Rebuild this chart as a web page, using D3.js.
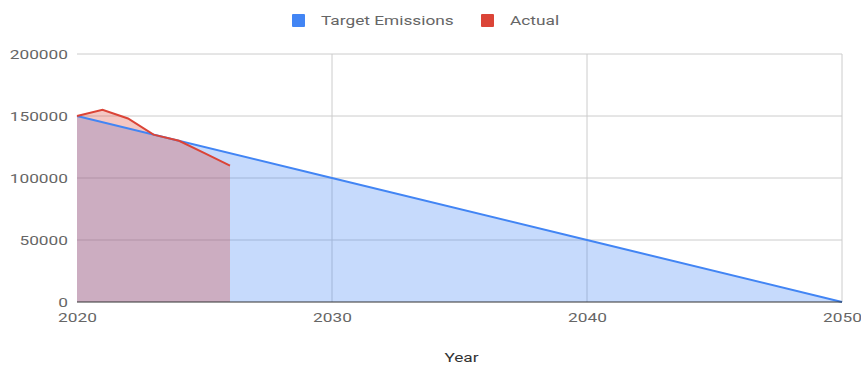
<!DOCTYPE html>
<html>
<head>
<meta charset="utf-8">
<script src="https://cdn.jsdelivr.net/npm/d3@7"></script>
<style>
  body { margin: 0; background: #fff; }
  svg { font-family: Roboto, "Noto Sans", sans-serif; }
</style>
</head>
<body>
<script>
const targetYears = [2020, 2030, 2040, 2050];
const targetValues = [150000, 100000, 50000, 0];
const actualYears = [2020, 2021, 2022, 2023, 2024, 2025, 2026];
const actualValues = [150000, 155000, 148000, 135000, 130000, 120000, 110000];
const yTicks = [0, 50000, 100000, 150000, 200000];
const xTicks = [2020, 2030, 2040, 2050];
const seriesNames = ["Target Emissions", "Actual"];
const seriesColors = ["#4285f4", "#db4437"];

const w = 861, h = 365;
const padL = 77, padR = 842, padT = 54, padB = 302;
const stretch = 1.33; // text in the picture is drawn wide

const svg = d3.select("body").append("svg")
  .attr("width", w).attr("height", h);

const x = d3.scaleLinear().domain([2020, 2050]).range([padL, padR]);
const y = d3.scaleLinear().domain([0, 200000]).range([padB, padT]);

// gridlines
svg.append("g").selectAll("line").data(yTicks.slice(1)).enter().append("line")
  .attr("x1", padL).attr("x2", padR)
  .attr("y1", d => y(d)).attr("y2", d => y(d))
  .attr("stroke", "#cccccc").attr("stroke-width", 1);
svg.append("g").selectAll("line").data(xTicks.slice(1)).enter().append("line")
  .attr("x1", d => x(d)).attr("x2", d => x(d))
  .attr("y1", padT).attr("y2", padB)
  .attr("stroke", "#cccccc").attr("stroke-width", 1);

const target = targetYears.map((d, i) => [d, targetValues[i]]);
const actual = actualYears.map((d, i) => [d, actualValues[i]]);

const area = d3.area().x(d => x(d[0])).y0(y(0)).y1(d => y(d[1]));
const line = d3.line().x(d => x(d[0])).y(d => y(d[1]));

svg.append("path").datum(target).attr("d", area)
  .attr("fill", seriesColors[0]).attr("fill-opacity", 0.3);
svg.append("path").datum(actual).attr("d", area)
  .attr("fill", seriesColors[1]).attr("fill-opacity", 0.3);

svg.append("path").datum(target).attr("d", line)
  .attr("fill", "none").attr("stroke", seriesColors[0]).attr("stroke-width", 2);
svg.append("path").datum(actual).attr("d", line)
  .attr("fill", "none").attr("stroke", seriesColors[1]).attr("stroke-width", 2);

// baseline
svg.append("line")
  .attr("x1", padL).attr("x2", padR)
  .attr("y1", y(0)).attr("y2", y(0))
  .attr("stroke", "#333").attr("stroke-width", 1);

// y axis labels
const yAxis = d3.axisLeft(y).tickValues(yTicks).tickFormat(d3.format("d")).tickSize(0).tickPadding(9);
const gy = svg.append("g").attr("transform", `translate(${padL},0)`).call(yAxis);
gy.select(".domain").remove();
gy.selectAll("text").attr("fill", "#666").style("font-size", "13px")
  .style("font-family", "Roboto, sans-serif")
  .attr("x", 0)
  .attr("transform", `translate(-9,0) scale(${stretch},1)`);

// x axis labels
const xAxis = d3.axisBottom(x).tickValues(xTicks).tickFormat(d3.format("d")).tickSize(0).tickPadding(11);
const gx = svg.append("g").attr("transform", `translate(0,${padB})`).call(xAxis);
gx.select(".domain").remove();
gx.selectAll("text").attr("fill", "#666").style("font-size", "13px")
  .style("font-family", "Roboto, sans-serif")
  .attr("transform", `scale(${stretch},1)`);

svg.append("text")
  .attr("transform", `translate(${(padL + padR) / 2 + 2},362) scale(${stretch},1)`)
  .attr("text-anchor", "middle")
  .attr("fill", "#333").style("font-size", "13px")
  .text("Year");

// legend
const legendX = [292, 481];
const lg = svg.append("g").selectAll("g").data(seriesNames).enter().append("g")
  .attr("transform", (d, i) => `translate(${legendX[i]},14)`);
lg.append("rect").attr("width", 13).attr("height", 13).attr("rx", 1)
  .attr("fill", (d, i) => seriesColors[i]);
lg.append("text")
  .attr("transform", `translate(29,11) scale(${stretch},1)`)
  .attr("fill", "#666").style("font-size", "13px")
  .text(d => d);
</script>
</body>
</html>
